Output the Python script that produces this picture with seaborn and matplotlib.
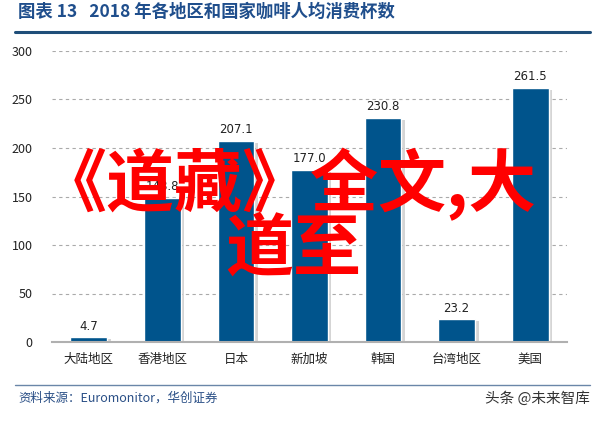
import matplotlib
matplotlib.use("Agg")
import matplotlib.pyplot as plt
import matplotlib.patheffects as pe
import seaborn as sns
import pandas as pd

regions = ["大陆地区", "香港地区", "日本", "新加坡", "韩国", "台湾地区", "美国"]
cups = [4.7, 148.8, 207.1, 177.0, 230.8, 23.2, 261.5]
value_labels = ["4.7", "148.8", "207.1", "177.0", "230.8", "23.2", "261.5"]
y_ticks = [0, 50, 100, 150, 200, 250, 300]

title_text = "图表 13   2018 年各地区和国家咖啡人均消费杯数"
source_text = "资料来源：Euromonitor，华创证券"
mark_text = "头条 @未来智库"
overlay_line1 = "《道藏》全文,大"
overlay_line2 = "道至"

sns.set_theme(style="white")
plt.rcParams["font.family"] = ["Noto Sans CJK SC", "DejaVu Sans"]

W, H = 603, 423
fig = plt.figure(figsize=(W / 100, H / 100), dpi=100)
fig.patch.set_facecolor("white")

ax = fig.add_axes([52 / W, (H - 342) / H, 515 / W, 291 / H])
df = pd.DataFrame({"region": regions, "cups": cups})
sns.barplot(data=df, x="region", y="cups", color="#00548c", saturation=1,
            width=0.5, ax=ax)
for p in ax.patches:
    p.set_path_effects([pe.SimplePatchShadow(offset=(2.5, -1), shadow_rgbFace="#888888", alpha=0.35),
                        pe.Normal()])

ax.set_ylim(0, 300)
ax.set_xlim(-0.5, 6.5)
ax.set_yticks(y_ticks)
ax.set_yticklabels([str(t) for t in y_ticks], fontsize=9, color="#222222")
ax.yaxis.grid(True, linestyle=(0, (3, 3)), color="#aaaaaa", linewidth=0.8)
ax.set_axisbelow(True)
ax.set_xlabel("")
ax.set_ylabel("")
ax.tick_params(axis="x", labelsize=9, colors="#222222", length=0, pad=8)
ax.tick_params(axis="y", length=0, pad=14)
for s in ["left", "right", "top"]:
    ax.spines[s].set_visible(False)
ax.spines["bottom"].set_color("#b0b0b0")
ax.spines["bottom"].set_linewidth(1.5)

for i, (v, lab) in enumerate(zip(cups, value_labels)):
    ax.text(i, v + 5, lab, ha="center", va="bottom", fontsize=8.5,
            color="#222222", family=["DejaVu Sans"])

# header
fig.text(18 / W, 1 - 12 / H, title_text, fontsize=12.5, fontweight="bold",
         color="#1f4e8c", ha="left", va="center")
fig.add_artist(plt.Line2D([15 / W, 590 / W], [1 - 32.5 / H] * 2,
                          color="#1f4e79", linewidth=2.2))

# footer
fig.add_artist(plt.Line2D([15 / W, 590 / W], [1 - 385 / H] * 2,
                          color="#6a86a8", linewidth=1.0))
fig.text(18 / W, 1 - 398 / H, source_text, fontsize=9, style="italic",
         color="#2a4f86", ha="left", va="center")
fig.text(590 / W, 1 - 399 / H, mark_text, fontsize=10.5, color="#333333",
         ha="right", va="center")

# overlay
fig.text(288 / W, 1 - 185 / H, overlay_line1, fontsize=49, fontweight="bold",
         color="#ff0000", ha="center", va="center")
fig.text(293 / W, 1 - 250 / H, overlay_line2, fontsize=49, fontweight="bold",
         color="#ff0000", ha="center", va="center")

fig.savefig("out.png", dpi=100)
